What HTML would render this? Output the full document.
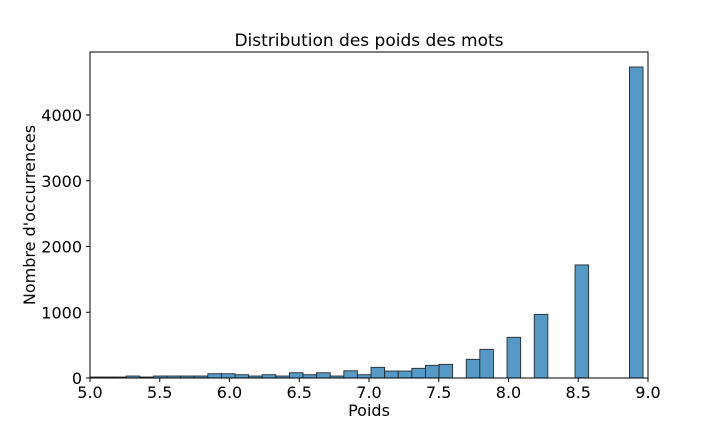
<!DOCTYPE html>
<html><head><meta charset="utf-8"><style>
html,body{margin:0;padding:0;background:#fff;}
svg{display:block;font-family:"DejaVu Sans","Liberation Sans",sans-serif;}
</style></head><body>
<svg id="chart" width="720" height="432" viewBox="0 0 720 432" xmlns="http://www.w3.org/2000/svg">
<defs><clipPath id="plotclip"><rect x="90" y="52" width="558" height="326"/></clipPath></defs>
<text x="369" y="46" font-size="17" text-anchor="middle" fill="#000">Distribution des poids des mots</text>
<g id="bars" clip-path="url(#plotclip)"></g>
<rect x="90" y="52" width="558" height="326" fill="none" stroke="#000" stroke-width="1"/>
<g id="xticks"></g>
<g id="yticks"></g>
<text x="369" y="416" font-size="16" text-anchor="middle">Poids</text>
<text x="0" y="0" font-size="16" text-anchor="middle" transform="translate(35,215) rotate(-90)">Nombre d'occurrences</text>
</svg>
<script>
const binStart = 4.967;
const binWidth = 0.0975;
const counts = [15,15,15,30,15,30,30,30,30,65,65,50,30,50,30,80,50,80,30,110,50,162,106,106,147,193,208,0,284,436,0,619,0,968,0,0,1720,0,0,0,4730];
const xTicks = [5.0,5.5,6.0,6.5,7.0,7.5,8.0,8.5,9.0];
const xTickLabels = ["5.0","5.5","6.0","6.5","7.0","7.5","8.0","8.5","9.0"];
const yTicks = [0,1000,2000,3000,4000];
const yTickLabels = ["0","1000","2000","3000","4000"];

const NS = "http://www.w3.org/2000/svg";
function xs(v){ return 90 + (v - 5.0) * 139.5; }
function ys(v){ return 378 - v * 0.06575; }

const barsG = document.getElementById('bars');
counts.forEach(function(c, i){
  if (c <= 0) return;
  const x0 = xs(binStart + i * binWidth), x1 = xs(binStart + (i + 1) * binWidth);
  const r = document.createElementNS(NS, 'rect');
  r.setAttribute('x', x0);
  r.setAttribute('y', ys(c));
  r.setAttribute('width', x1 - x0);
  r.setAttribute('height', ys(0) - ys(c));
  r.setAttribute('fill', '#5599c7');
  r.setAttribute('stroke', '#2b2b2b');
  r.setAttribute('stroke-width', '0.9');
  
  
  barsG.appendChild(r);
});

const xg = document.getElementById('xticks');
xTicks.forEach(function(v, i){
  const x = xs(v);
  const l = document.createElementNS(NS, 'line');
  l.setAttribute('x1', x); l.setAttribute('x2', x);
  l.setAttribute('y1', 378); l.setAttribute('y2', 382);
  l.setAttribute('stroke', '#000');
  
  
  xg.appendChild(l);
  const t = document.createElementNS(NS, 'text');
  t.setAttribute('x', x); t.setAttribute('y', 398);
  t.setAttribute('font-size', '16'); t.setAttribute('text-anchor', 'middle');
  t.textContent = xTickLabels[i];
  
  
  xg.appendChild(t);
});

const yg = document.getElementById('yticks');
yTicks.forEach(function(v, i){
  const y = ys(v);
  const l = document.createElementNS(NS, 'line');
  l.setAttribute('x1', 86); l.setAttribute('x2', 90);
  l.setAttribute('y1', y); l.setAttribute('y2', y);
  l.setAttribute('stroke', '#000');
  
  
  yg.appendChild(l);
  const t = document.createElementNS(NS, 'text');
  t.setAttribute('x', 82); t.setAttribute('y', y + 6);
  t.setAttribute('font-size', '16'); t.setAttribute('text-anchor', 'end');
  t.textContent = yTickLabels[i];
  
  
  yg.appendChild(t);
});
</script>
</body></html>
